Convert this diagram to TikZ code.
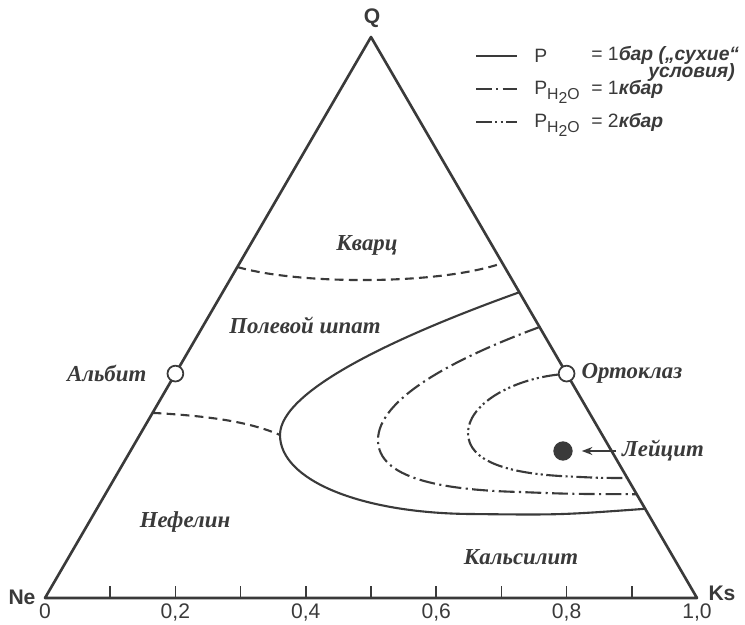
\documentclass[tikz,border=0pt]{standalone}
\usepackage{fontspec}
\setmainfont{Liberation Serif}
\setsansfont{Liberation Sans}
\usetikzlibrary{positioning,arrows.meta,calc}
\definecolor{dgink}{HTML}{3A3A3A}
\newcommand{\pwater}{P\raisebox{-3pt}{\fontsize{9}{9}\selectfont H\raisebox{-2pt}{2}O}}

\begin{document}
\begin{tikzpicture}[x=0.02cm, y=-0.02cm,
  line join=round, draw=dgink, text=dgink,
  side/.style={line width=1.5pt},
  dry/.style={line width=1.2pt},
  wet/.style={dry, dash pattern=on 9pt off 2.5pt on 1.2pt off 2.5pt},
  wetter/.style={dry, dash pattern=on 9pt off 2pt on 1.2pt off 1.8pt on 1.2pt off 2pt},
  field/.style={dry, dash pattern=on 5pt off 3pt},
  phase/.style={font=\fontsize{13}{15}\selectfont\itshape\bfseries},
  apex/.style={font=\fontsize{12}{14}\selectfont\sffamily\bfseries},
  tick/.style={font=\fontsize{12}{14}\selectfont\sffamily, below=0pt},
  lgtext/.style={font=\fontsize{11}{13}\selectfont\sffamily, anchor=west, inner sep=0pt},
  comp/.style={circle, draw=dgink, fill=white, line width=1pt, inner sep=0pt,
    minimum size=9pt},
  ]
  \useasboundingbox (0,0) rectangle (745,625);

  % triangle Ne - Ks - Q
  \coordinate (Ne) at (45,598);
  \coordinate (Ks) at (697,598);
  \coordinate (Q) at (371,37);
  \draw[side] (Ne) -- (Ks) -- (Q) -- cycle;
  \foreach \i in {1,...,9}
    \draw[line width=1pt] ($(Ne)!\i/10!(Ks)$) -- ++(0,-12);
  \foreach \v/\t in {0/0, 2/{0,2}, 4/{0,4}, 6/{0,6}, 8/{0,8}, 10/{1,0}}
    \node[tick] (t\v) at ($(Ne)!\v/10!(Ks)$) {\t};
  \node[apex] (lQ) at (372,18) {Q};
  \node[apex] (lNe) at (22,597) {Ne};
  \node[apex] (lKs) at (722,593) {Ks};

  % points on the sides
  \coordinate (qL) at ($(Ne)!0.590!(Q)$);
  \coordinate (qR) at ($(Ks)!0.597!(Q)$);
  \coordinate (fL) at ($(Ne)!0.330!(Q)$);
  \coordinate (sT) at ($(Ks)!0.545!(Q)$);
  \coordinate (sB) at ($(Ks)!0.159!(Q)$);
  \coordinate (dT) at ($(Ks)!0.483!(Q)$);
  \coordinate (dB) at ($(Ks)!0.185!(Q)$);
  \coordinate (tB) at ($(Ks)!0.214!(Q)$);
  \coordinate (nose) at (280,435);

  % field boundaries
  \draw[field] (qL) .. controls (300,285) and (440,285) .. (qR);
  \draw[field] (fL) .. controls (210,416) and (250,422) .. (nose);
  \draw[dry] (sT) .. controls (400,335) and (280,390) .. (nose)
    .. controls (280,480) and (360,513) .. (470,514)
    .. controls (560,515) .. (sB);
  \draw[wet] (dT) .. controls (450,360) and (378,400) .. (378,440)
    .. controls (378,478) and (440,490) .. (520,492)
    .. controls (570,494) .. (dB);

  \node[comp] (alb) at ($(Ne)!0.40!(Q)$) {};
  \node[comp] (ort) at ($(Ks)!0.40!(Q)$) {};
  \draw[wetter] (ort) .. controls (510,380) and (468,405) .. (468,433)
    .. controls (468,462) and (510,473) .. (560,476)
    .. controls (600,478) .. (tB);

  % phase names
  \node[phase, left=8pt of alb] (albl) {Альбит};
  \node[phase, right=0pt of ort] (ortl) {Ортоклаз};
  \node[phase] (kv) at (367,245) {Кварц};
  \node[phase] (fs) at (305,325) {Полевой шпат};
  \node[phase] (nf) at (185,522) {Нефелин};
  \node[phase] (kl) at (521,557) {Кальсилит};
  \node[circle, fill=dgink, minimum size=11pt, inner sep=0pt] (lc) at (563,451) {};
  \node[phase, anchor=west] (lcl) at (616,451) {Лейцит};
  \draw[-{Stealth[length=6pt]}, line width=1pt, shorten >=5pt] (lcl) -- (lc);

  % legend
  \coordinate (lg1) at (476,56);
  \coordinate (lg2) at (476,89);
  \coordinate (lg3) at (476,122);
  \draw[dry, line width=1.5pt] (lg1) -- ++(41,0);
  \draw[wet, line width=1.4pt] (lg2) -- ++(41,0);
  \draw[wetter, line width=1.4pt] (lg3) -- ++(41,0);
  \node[lgtext] (p1) at (534,56) {P};
  \node[lgtext] (p2) at (534,92) {\pwater};
  \node[lgtext] (p3) at (534,125) {\pwater};
  \node[lgtext] (e1) at (591,55) {= 1\textit{\bfseries бар („сухие“}};
  \node[lgtext] (e1b) at (648,73) {\textit{\bfseries условия)}};
  \node[lgtext] (e2) at (591,89) {= 1\textit{\bfseries кбар}};
  \node[lgtext] (e3) at (591,122) {= 2\textit{\bfseries кбар}};
\end{tikzpicture}
\end{document}
